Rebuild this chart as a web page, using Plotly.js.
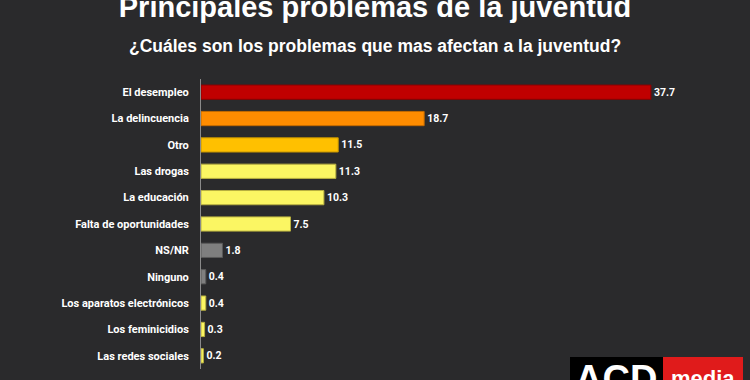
<!DOCTYPE html>
<html>
<head>
<meta charset="utf-8">
<script src="https://cdn.plot.ly/plotly-3.0.1.min.js"></script>
<style>html,body{margin:0;padding:0;background:#2a2a2c;}#chart{width:750px;height:380px;}</style>
</head>
<body>
<div id="chart"></div>
<script>
const categories = ["El desempleo","La delincuencia","Otro","Las drogas","La educación","Falta de oportunidades","NS/NR","Ninguno","Los aparatos electrónicos","Los feminicidios","Las redes sociales"];
const values = [37.7,18.7,11.5,11.3,10.3,7.5,1.8,0.4,0.4,0.3,0.2];
const labels = ["37.7","18.7","11.5","11.3","10.3","7.5","1.8","0.4","0.4","0.3","0.2"];
const barColors = ["#c00000","#ff8c00","#ffc000","#fbf663","#fbf663","#fbf663","#7f7f7f","#7f7f7f","#fbf663","#fbf663","#fbf663"];
const edgeColors = ["#8a0000","#c46a00","#c49300","#b8b040","#b8b040","#b8b040","#5a5a5a","#5a5a5a","#b8b040","#b8b040","#b8b040"];

const trace = {
  type: 'bar',
  orientation: 'h',
  y: categories,
  x: values,
  text: labels,
  textposition: 'outside',
  cliponaxis: false,
  textfont: {color: '#ffffff', size: 10.5, family: 'Roboto, Arial, sans-serif', weight: 'bold'},
  marker: {color: barColors, line: {color: edgeColors, width: 1}},
  hoverinfo: 'none'
};

const layout = {
  width: 750, height: 380,
  paper_bgcolor: '#2a2a2c',
  plot_bgcolor: '#2a2a2c',
  margin: {l: 201, r: 12, t: 79, b: 11},
  bargap: 0.46,
  showlegend: false,
  font: {family: 'Roboto, Arial, sans-serif', color: '#ffffff'},
  title: {
    text: '<b>Principales problemas de la juventud</b>',
    font: {size: 29, color: '#ffffff', family: 'Liberation Sans, Arial, sans-serif'},
    x: 0.5, xanchor: 'center', xref: 'container',
    y: 0.982, yanchor: 'middle'
  },
  xaxis: {
    range: [0, 45], visible: false, fixedrange: true
  },
  yaxis: {
    autorange: 'reversed',
    showline: true, linecolor: '#8a8a8a', linewidth: 1,
    showgrid: false, zeroline: false,
    ticks: 'outside', ticklen: 9, tickcolor: 'rgba(0,0,0,0)',
    tickfont: {size: 11, color: '#ffffff', family: 'Roboto, Arial, sans-serif', weight: 'bold'},
    fixedrange: true
  },
  annotations: [
    {text: '<b>¿Cuáles son los problemas que mas afectan a la juventud?</b>', xref: 'paper', yref: 'paper',
     x: (375-201)/537, y: (369-46)/290, xanchor: 'center', yanchor: 'middle', showarrow: false,
     font: {size: 17.5, color: '#ffffff', family: 'Liberation Sans, Arial, sans-serif'}},
    {text: '<b>ACD</b>', xref: 'paper', yref: 'paper',
     x: (616-201)/537, y: (369-356)/290, xanchor: 'center', yanchor: 'top', showarrow: false,
     font: {size: 38, color: '#ffffff', family: 'Liberation Sans, Arial, sans-serif'}},
    {text: '<b>media</b>', xref: 'paper', yref: 'paper',
     x: (703-201)/537, y: (369-364)/290, xanchor: 'center', yanchor: 'top', showarrow: false,
     font: {size: 22, color: '#ffffff', family: 'Liberation Sans, Arial, sans-serif'}}
  ],
  shapes: [
    {type: 'rect', xref: 'paper', yref: 'paper', layer: 'below',
     x0: (570-201)/537, x1: (663-201)/537, y0: (369-357)/290, y1: (369-385)/290,
     fillcolor: '#000000', line: {width: 0}},
    {type: 'rect', xref: 'paper', yref: 'paper', layer: 'below',
     x0: (663-201)/537, x1: (743-201)/537, y0: (369-357)/290, y1: (369-385)/290,
     fillcolor: '#e01b1b', line: {width: 0}}
  ]
};

Plotly.newPlot('chart', [trace], layout, {displayModeBar: false, staticPlot: true});
</script>
</body>
</html>
